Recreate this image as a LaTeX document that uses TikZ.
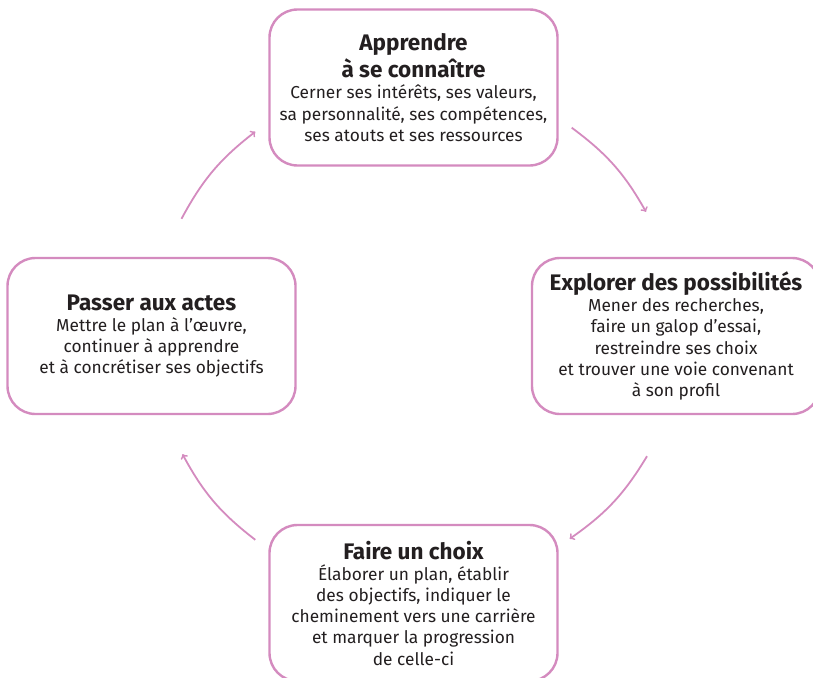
\documentclass[tikz,border=0pt]{standalone}
\usepackage{fontspec}
\setmainfont{Fira Sans}
\usetikzlibrary{arrows}
\definecolor{orchid}{HTML}{D48BBF}
\definecolor{charcoal}{HTML}{231F20}

\newcommand{\stagetitle}{\fontsize{22.5}{26}\selectfont\bfseries}

\begin{document}
\begin{tikzpicture}[x=1pt, y=-1pt,
        stage/.style={draw=orchid, line width=2.4pt, rounded corners=28pt, fill=white,
            minimum width=288pt, minimum height=156pt, inner sep=0pt, align=center,
            text=charcoal, font=\fontsize{17.3}{21.2}\selectfont},
        cyclearrow/.style={draw=orchid, line width=1.8pt, ->, >=to, bend left=12}]

        \useasboundingbox (0,0) rectangle (813,677);

        % Top
        \node[stage] (learn) at (413.5,87.5) {{\stagetitle Apprendre}\\[2.5pt] {\stagetitle à se connaître}\\ Cerner ses intérêts, ses valeurs,\\ sa personnalité, ses compétences,\\ ses atouts et ses ressources};

        % Right
        \node[stage] (explore) at (676,336) {{\stagetitle Explorer des possibilités}\\ Mener des recherches,\\ faire un galop d’essai,\\ restreindre ses choix\\ et trouver une voie convenant\\ à son profil};

        % Bottom
        \node[stage] (choose) at (413.5,603) {{\stagetitle Faire un choix}\\ Élaborer un plan, établir\\ des objectifs, indiquer le\\ cheminement vers une carrière\\ et marquer la progression\\ de celle-ci};

        % Left
        \node[stage] (act) at (151.5,336) {{\stagetitle Passer aux actes}\\ Mettre le plan à l’œuvre,\\ continuer à apprendre\\ et à concrétiser ses objectifs};

        % Arrows
        \draw[cyclearrow] ([xshift=13pt,yshift=39pt]learn.south east) to ([xshift=-30pt,yshift=45pt]explore.north);
        \draw[cyclearrow] ([xshift=-29pt,yshift=-41pt]explore.south) to ([xshift=11pt,yshift=-15pt]choose.north east);
        \draw[cyclearrow] ([xshift=-13pt,yshift=-16pt]choose.north west) to ([xshift=31pt,yshift=-39pt]act.south);
        \draw[cyclearrow] ([xshift=30pt,yshift=38pt]act.north) to ([xshift=-13pt,yshift=35pt]learn.south west);
\end{tikzpicture}
\end{document}
